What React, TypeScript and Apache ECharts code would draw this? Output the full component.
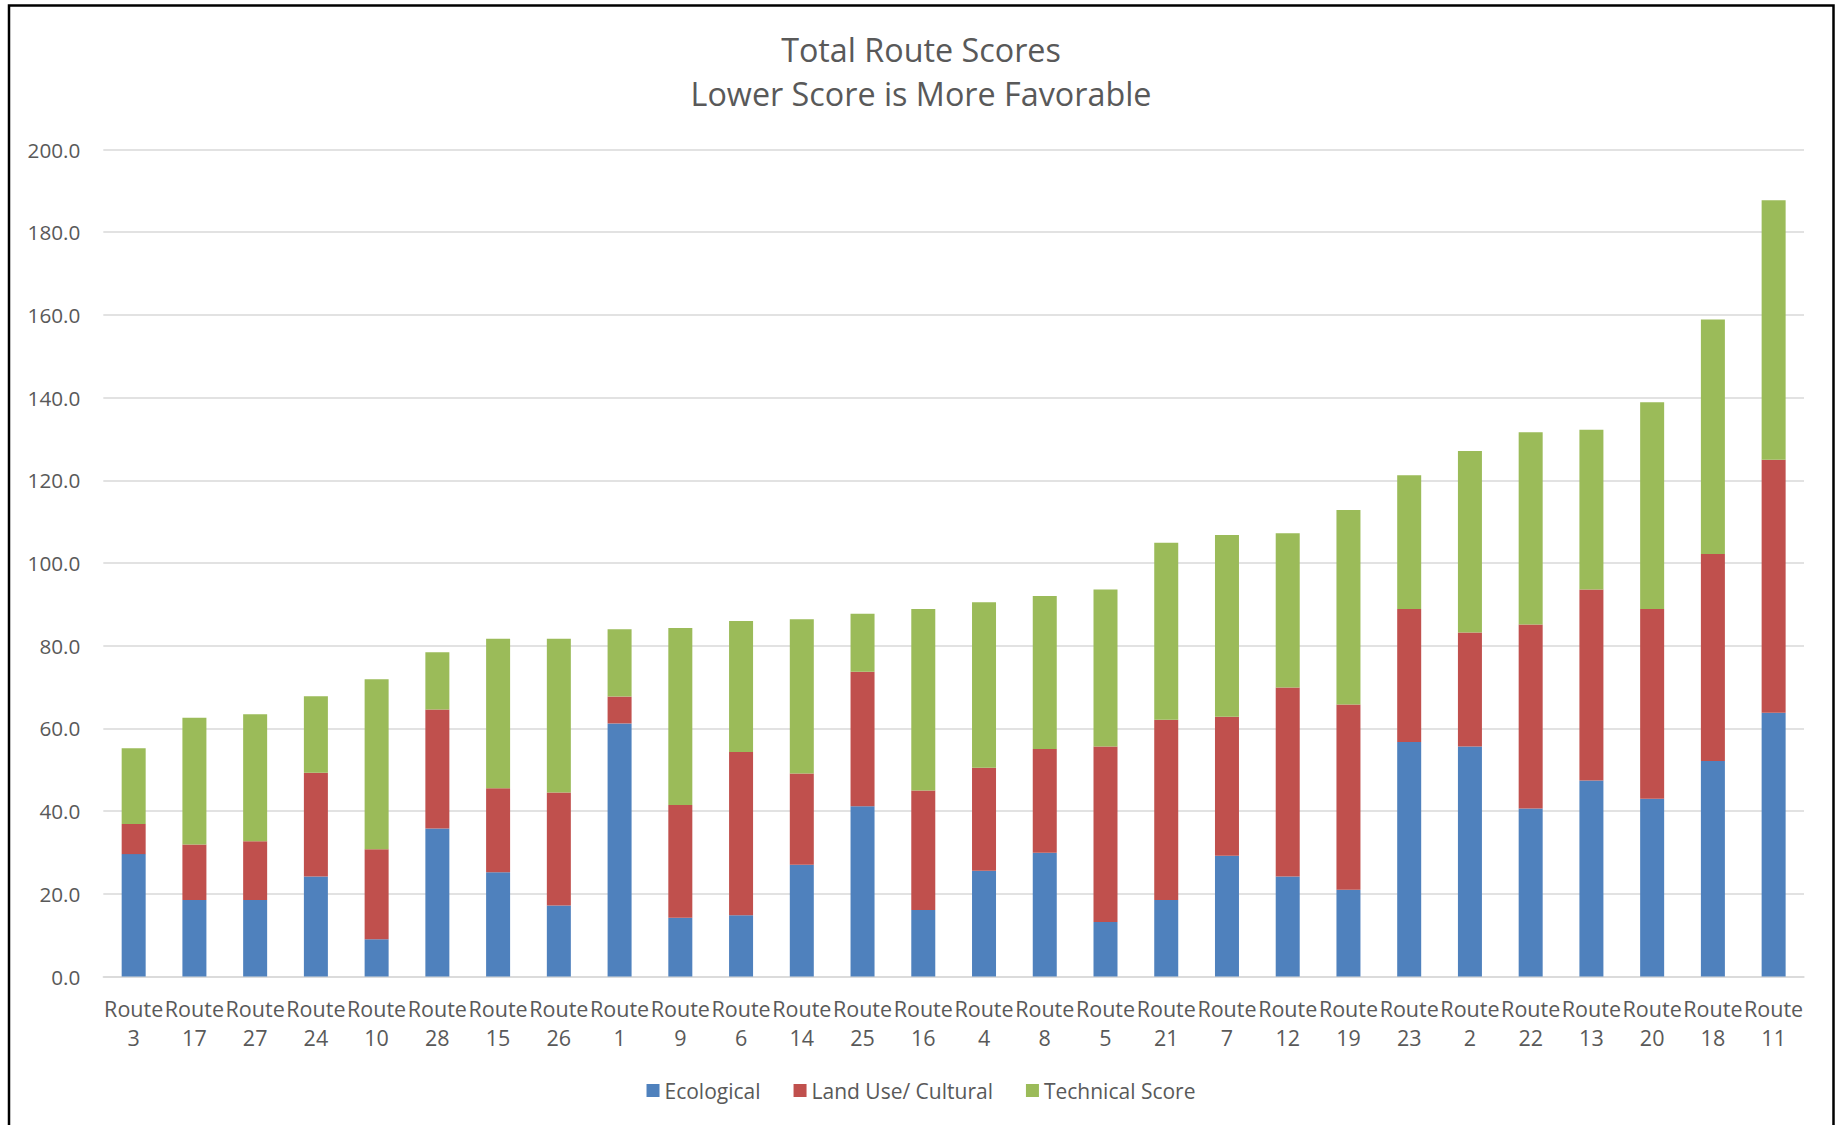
import React, { useEffect, useRef } from "react";
import * as echarts from "echarts";

const routes = [
  "Route 3", "Route 17", "Route 27", "Route 24", "Route 10", "Route 28", "Route 15",
  "Route 26", "Route 1", "Route 9", "Route 6", "Route 14", "Route 25", "Route 16",
  "Route 4", "Route 8", "Route 5", "Route 21", "Route 7", "Route 12", "Route 19",
  "Route 23", "Route 2", "Route 22", "Route 13", "Route 20", "Route 18", "Route 11",
];

const ecological = [
  29.6, 18.5, 18.5, 24.2, 9.0, 35.8, 25.2, 17.2, 61.2, 14.2, 14.8, 27.0, 41.2, 16.1,
  25.6, 29.9, 13.2, 18.5, 29.2, 24.2, 21.0, 56.7, 55.6, 40.6, 47.4, 43.0, 52.1, 63.8,
];

const landUseCultural = [
  7.3, 13.4, 14.2, 25.1, 21.8, 28.8, 20.3, 27.3, 6.5, 27.3, 39.5, 22.1, 32.5, 28.9,
  24.9, 25.1, 42.4, 43.6, 33.6, 45.7, 44.8, 32.2, 27.6, 44.5, 46.2, 45.9, 50.1, 61.2,
];

const technicalScore = [
  18.3, 30.7, 30.7, 18.5, 41.1, 13.8, 36.2, 37.2, 16.3, 42.8, 31.7, 37.3, 14.0, 43.9,
  40.0, 37.0, 38.0, 42.8, 44.0, 37.3, 47.0, 32.3, 43.9, 46.5, 38.6, 50.0, 56.7, 62.7,
];

const seriesNames = ["Ecological", "Land Use/ Cultural", "Technical Score"];
const seriesColors = ["#4F81BD", "#C0504D", "#9BBB59"];
const titleLines = ["Total Route Scores", "Lower Score is More Favorable"];

const FONT = "'Open Sans', 'Noto Sans', sans-serif";
const TEXT_COLOR = "#595959";
const GRID_COLOR = "#D9D9D9";

export default function App() {
  const ref = useRef<HTMLDivElement>(null);

  useEffect(() => {
    if (!ref.current) return;
    const chart = echarts.init(ref.current, null, { renderer: "svg" });
    const values = [ecological, landUseCultural, technicalScore];
    chart.setOption({
      animation: false,
      backgroundColor: "#FFFFFF",
      title: {
        text: titleLines.join("\n"),
        left: "center",
        top: 22,
        textStyle: {
          fontFamily: FONT,
          fontSize: 32.3,
          fontWeight: "normal",
          color: TEXT_COLOR,
          lineHeight: 44,
        },
      },
      legend: {
        data: seriesNames,
        left: "center",
        top: 1075,
        icon: "rect",
        itemWidth: 13,
        itemHeight: 13,
        itemGap: 33,
        textStyle: { fontFamily: FONT, fontSize: 21, color: TEXT_COLOR },
      },
      grid: { left: 103.3, right: 38, top: 149.5, bottom: 148.5, containLabel: false },
      xAxis: {
        type: "category",
        data: routes,
        axisTick: { show: false },
        axisLine: { lineStyle: { color: GRID_COLOR, width: 1.5 } },
        axisLabel: {
          interval: 0,
          margin: 17,
          fontFamily: FONT,
          fontSize: 21.5,
          color: TEXT_COLOR,
          lineHeight: 29,
          formatter: (v: string) => v.replace(" ", "\n"),
        },
      },
      yAxis: {
        type: "value",
        min: 0,
        max: 200,
        interval: 20,
        axisLine: { show: false },
        axisTick: { show: false },
        splitLine: { lineStyle: { color: GRID_COLOR, width: 1.5 } },
        axisLabel: {
          margin: 23,
          fontFamily: FONT,
          fontSize: 20.7,
          color: TEXT_COLOR,
          formatter: (v: number) => v.toFixed(1),
        },
      },
      series: seriesNames.map((name, i) => ({
        name,
        type: "bar",
        stack: "total",
        barWidth: 24,
        data: values[i],
        itemStyle: { color: seriesColors[i] },
      })),
      graphic: [
        {
          type: "rect",
          shape: { x: 9, y: 5.5, width: 1824.5, height: 1300 },
          style: { fill: "none", stroke: "#000000", lineWidth: 2.5 },
          silent: true,
        },
      ],
    });
    return () => chart.dispose();
  }, []);

  return (
    <div
      ref={ref}
      style={{ position: "fixed", left: 0, top: 0, width: 1842, height: 1125 }}
    />
  );
}
